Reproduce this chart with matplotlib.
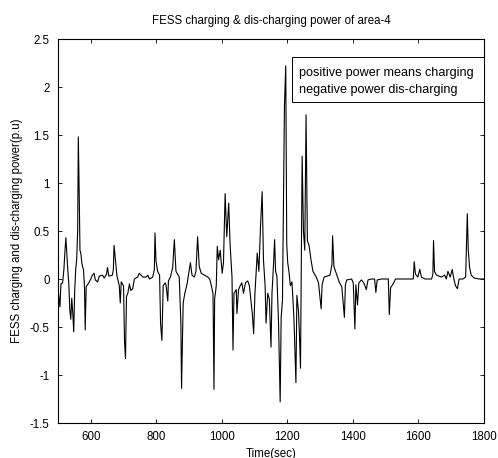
import matplotlib
matplotlib.use("Agg")
import matplotlib.pyplot as plt
from matplotlib.patches import Rectangle

# time (sec) and FESS power (p.u)
t = [500, 503, 506, 509, 514, 518, 521, 524, 527, 530, 533, 536, 539, 542, 545, 548,
     551, 554, 557, 560, 562, 565, 567, 570, 573, 578, 581, 583, 586, 594, 600, 605,
     610, 614, 621, 626, 636, 641, 648, 651, 655, 666, 669, 671, 675, 680, 687, 690,
     693, 700, 703, 706, 709, 713, 718, 722, 728, 733, 743, 748, 759, 769, 774, 779,
     789, 794, 796, 799, 804, 810, 813, 817, 821, 827, 830, 835, 837, 843, 850, 855,
     860, 870, 875, 877, 882, 887, 894, 899, 904, 909, 916, 921, 926, 931, 937, 947,
     957, 963, 968, 973, 975, 976, 978, 983, 986, 990, 995, 1001, 1005, 1010, 1015, 1021,
     1025, 1031, 1034, 1037, 1044, 1046, 1051, 1056, 1061, 1066, 1072, 1079, 1084, 1093, 1097, 1101,
     1105, 1108, 1113, 1118, 1123, 1127, 1132, 1135, 1140, 1145, 1150, 1153, 1158, 1161, 1164, 1168,
     1173, 1178, 1181, 1185, 1191, 1195, 1198, 1201, 1205, 1209, 1214, 1220, 1226, 1229, 1234, 1237,
     1240, 1243, 1245, 1249, 1253, 1257, 1261, 1266, 1272, 1278, 1288, 1295, 1303, 1306, 1312, 1330,
     1336, 1338, 1342, 1349, 1359, 1366, 1374, 1377, 1381, 1396, 1401, 1406, 1409, 1414, 1418, 1426,
     1433, 1441, 1446, 1457, 1466, 1470, 1474, 1487, 1500, 1508, 1511, 1515, 1523, 1530, 1538, 1584,
     1587, 1591, 1598, 1604, 1609, 1620, 1640, 1644, 1646, 1649, 1655, 1670, 1680, 1685, 1690, 1697,
     1703, 1708, 1713, 1719, 1724, 1736, 1744, 1749, 1752, 1756, 1761, 1770, 1785, 1800]
p = [-0.10, -0.20, -0.29, -0.05, -0.04, 0.10, 0.28, 0.43, 0.25, 0.09, -0.05, -0.32, -0.42, -0.20, -0.35, -0.55,
     -0.12, 0.10, 0.20, 0.50, 1.48, 0.82, 0.30, 0.26, 0.16, 0.09, -0.10, -0.53, -0.08, -0.04, 0.00, 0.04,
     0.06, -0.01, -0.03, 0.03, 0.04, 0.01, 0.05, 0.12, 0.03, 0.04, 0.10, 0.35, 0.21, 0.03, -0.07, -0.25,
     -0.03, -0.07, -0.65, -0.83, -0.18, -0.15, -0.05, -0.12, -0.10, 0.00, 0.02, 0.06, 0.02, 0.02, 0.04, 0.00,
     0.02, 0.10, 0.48, 0.19, 0.08, 0.04, -0.46, -0.64, -0.07, -0.04, -0.07, -0.23, -0.02, 0.02, 0.12, 0.41,
     0.08, 0.02, -0.46, -1.14, -0.25, -0.15, -0.05, 0.06, 0.17, 0.04, 0.02, 0.08, 0.44, 0.13, 0.06, 0.04,
     0.02, 0.00, -0.07, -0.15, -0.76, -1.15, -0.21, -0.07, 0.34, 0.20, 0.30, 0.06, 0.17, 0.89, 0.44, 0.79,
     0.37, 0.02, -0.74, -0.15, -0.11, -0.36, -0.11, -0.07, -0.04, -0.15, -0.04, -0.02, -0.07, -0.36, -0.57, -0.15,
     0.08, 0.27, 0.08, 0.55, 0.91, 0.20, -0.07, -0.46, -0.15, -0.21, -0.71, -0.15, 0.17, 0.41, 0.08, 0.03,
     -0.46, -1.28, -0.40, -0.22, 1.80, 2.22, 0.37, 0.17, 0.07, -0.07, -0.03, -0.41, -1.08, -0.17, -0.34, -0.60,
     -0.93, 0.45, 1.28, 0.50, 0.30, 1.71, 0.40, 0.35, 0.20, 0.08, 0.02, -0.04, -0.31, -0.06, 0.02, 0.04,
     0.15, 0.45, 0.13, 0.06, -0.04, -0.08, -0.40, -0.06, -0.01, 0.00, -0.04, -0.52, -0.06, -0.27, -0.04, -0.01,
     -0.04, -0.11, -0.01, 0.00, 0.00, -0.14, -0.01, 0.00, 0.00, 0.00, -0.37, -0.09, -0.05, 0.00, 0.00, 0.00,
     0.18, 0.05, 0.02, 0.10, 0.02, 0.00, 0.00, 0.05, 0.40, 0.08, 0.04, 0.02, 0.04, 0.00, 0.08, 0.02,
     0.10, 0.00, -0.07, -0.10, 0.00, 0.00, 0.02, 0.68, 0.30, 0.12, 0.04, 0.01, 0.00, 0.00]

xticks = [600, 800, 1000, 1200, 1400, 1600, 1800]
yticks = [-1.5, -1, -0.5, 0, 0.5, 1, 1.5, 2, 2.5]
yticklabels = ['-1.5', '-1', '-0.5', '0', '0.5', '1', '1.5', '2', '2.5']
note_lines = ['positive power means charging', 'negative power dis-charging']

plt.rcParams['font.family'] = ['Liberation Sans', 'DejaVu Sans']
plt.rcParams['font.size'] = 8.3

fig = plt.figure(figsize=(4.98, 4.58), dpi=100)
ax = fig.add_axes([58/498, 35/458, 426/498, 384/458])

ax.plot(t, p, color='black', linewidth=0.8)

ax.set_xlim(500, 1800)
ax.set_ylim(-1.5, 2.5)
ax.set_xticks(xticks)
ax.set_yticks(yticks)
ax.set_yticklabels(yticklabels)
ax.tick_params(direction='in', length=3, width=0.6, top=True, right=True, pad=6)
for s in ax.spines.values():
    s.set_linewidth(0.8)

ax.set_title('FESS charging & dis-charging power of area-4', fontsize=8.3, pad=11)
ax.set_xlabel('Time(sec)', labelpad=3)
ax.set_ylabel('FESS charging and dis-charging power(p.u)', labelpad=5)

# annotation box, flush with the right axis
ax.add_patch(Rectangle((0.55, 0.835), 0.45, 0.119, transform=ax.transAxes,
                       facecolor='white', edgecolor='black', linewidth=0.7, zorder=3))
ax.text(0.566, 0.911, note_lines[0], transform=ax.transAxes, ha='left', va='center',
        fontsize=9.1, zorder=4)
ax.text(0.566, 0.867, note_lines[1], transform=ax.transAxes, ha='left', va='center',
        fontsize=9.1, zorder=4)

fig.savefig('out.png', dpi=100)
